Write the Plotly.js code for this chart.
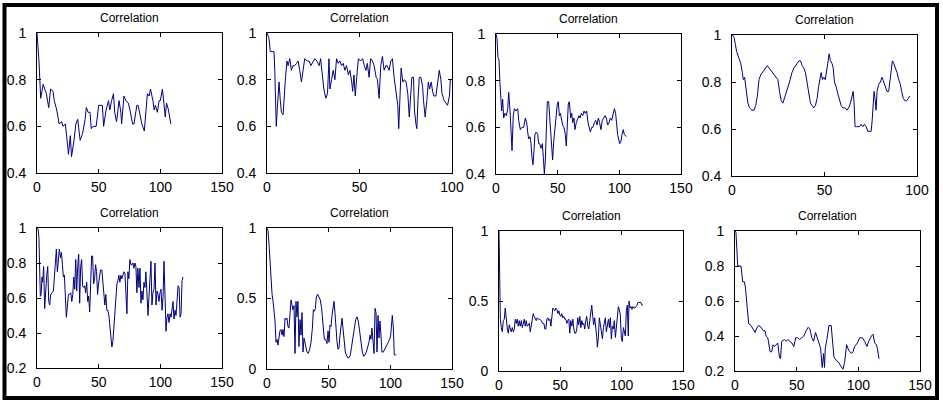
<!DOCTYPE html>
<html>
<head>
<meta charset="utf-8">
<script src="https://cdn.plot.ly/plotly-3.0.1.min.js"></script>
<style>html,body{margin:0;padding:0;background:#fff;}#chart{width:943px;height:406px;}</style>
</head>
<body>
<div id="chart"></div>
<script>
var titleText = "Correlation";

var p1x = [0,1.6,3,5,7.6,9.5,11,13,14,16,18,20,21,23,25,25.5,27,28,30,31.5,33,35,37,39,40,41.5,43,44,45.5,48,50,51.5,53,54,56,58,59,60.5,62,63,64.5,66.5,68,68.6,70.5,72,74,75.4,77.5,78.6,81,82,83.5,85,87,88.4,89.5,91,92,94,95,96,97.6,99,100,101.7,103,104,105,106.6,108.5];
var p1y = [1,0.88,0.72,0.78,0.74,0.68,0.76,0.75,0.71,0.67,0.61,0.62,0.6,0.61,0.51,0.48,0.56,0.47,0.54,0.61,0.63,0.54,0.57,0.63,0.68,0.66,0.66,0.59,0.6,0.6,0.69,0.69,0.69,0.6,0.67,0.71,0.67,0.71,0.74,0.66,0.62,0.71,0.66,0.61,0.73,0.71,0.70,0.67,0.61,0.61,0.69,0.69,0.64,0.61,0.58,0.67,0.74,0.73,0.76,0.71,0.67,0.69,0.66,0.71,0.71,0.76,0.68,0.64,0.70,0.67,0.61];

var p2x = [0,1,1.8,3.8,4.2,4.7,5,5.6,6.1,6.5,7.2,7.8,8.7,9.2,10,10.8,11.4,12.3,13.2,14,15,16,16.8,17.7,18.6,19.5,20.4,21.7,22.8,23.7,24.6,25.9,27,28.2,29,29.8,30.7,31.8,32.7,33.5,34,34.9,35.8,36.7,37.6,38.5,39.4,40.3,41.2,42.1,43,44,44.8,45.8,46.3,47,47.7,48.5,49.4,50.6,51.7,52.6,53.5,54.2,55.2,56,57,57.9,59,59.7,60.6,61.5,62.4,63.3,64.2,65,66,66.9,67.8,68.7,69.8,70.7,71.2,72,72.5,73.4,74.3,75.2,76.1,76.9,77.6,78.3,79.2,79.7,80.5,81,81.6,82.3,83.2,84.1,84.6,85.5,86.4,87.2,87.9,88.8,89.5,90.2,91.3,92.2,93.1,94,94.6,95.8,96.9,97.6,98.6,99.1,99.8];
var p2y = [1,0.98,0.92,0.92,0.84,0.69,0.6,0.68,0.77,0.79,0.71,0.66,0.65,0.73,0.81,0.88,0.86,0.89,0.84,0.86,0.86,0.87,0.88,0.84,0.79,0.84,0.89,0.88,0.88,0.86,0.87,0.89,0.88,0.86,0.89,0.81,0.76,0.72,0.74,0.89,0.76,0.8,0.84,0.8,0.89,0.87,0.88,0.86,0.87,0.84,0.86,0.82,0.84,0.79,0.75,0.82,0.73,0.81,0.89,0.88,0.89,0.86,0.84,0.87,0.81,0.89,0.88,0.86,0.81,0.8,0.72,0.86,0.9,0.84,0.86,0.86,0.84,0.88,0.89,0.81,0.74,0.69,0.59,0.74,0.85,0.79,0.8,0.79,0.74,0.64,0.75,0.81,0.81,0.67,0.61,0.59,0.71,0.81,0.81,0.77,0.71,0.64,0.71,0.79,0.76,0.79,0.75,0.73,0.73,0.8,0.84,0.8,0.74,0.71,0.7,0.69,0.73,0.8,0.8];

var p3x = [0,0.8,1.6,2.4,3.2,4,4.6,5.4,6.2,7.3,8.4,9.5,10.3,11.4,12.2,13,14,14.9,16.2,17.6,18.4,19.7,21,22.4,23.8,24.9,25.7,26.5,27.6,28.4,29.2,30,30.8,31.6,32.7,33.8,34.6,35.4,36.5,37.6,38.4,39.2,40,40.8,41.6,42.7,43.5,44.3,45.1,45.9,46.8,47.6,48.6,49.7,50.5,51.4,52.2,53.2,54,55.1,56.2,57,57.8,58.6,59.5,60.5,61.4,62.2,63.2,64,65.1,66.2,67.3,68.1,69.2,70.3,71.4,72.4,73.5,74.6,75.7,76.5,77.6,78.6,79.7,80.8,81.9,83,84,85.1,86.2,87.3,88.4,89.5,90.5,91.6,92.7,93.8,94.9,96,97,97.8,98.6,100.3,101.3,102.2,103.2,104,105.7];
var p3y = [1,0.98,0.9,0.89,0.79,0.72,0.67,0.72,0.64,0.66,0.65,0.68,0.75,0.67,0.55,0.5,0.65,0.68,0.67,0.68,0.63,0.59,0.6,0.6,0.64,0.62,0.58,0.55,0.56,0.53,0.47,0.44,0.5,0.57,0.58,0.57,0.53,0.53,0.51,0.53,0.47,0.4,0.46,0.64,0.71,0.71,0.64,0.57,0.51,0.46,0.54,0.59,0.64,0.7,0.71,0.65,0.66,0.63,0.61,0.6,0.57,0.52,0.65,0.7,0.71,0.64,0.66,0.62,0.64,0.59,0.62,0.64,0.65,0.64,0.66,0.65,0.67,0.66,0.67,0.62,0.6,0.58,0.6,0.6,0.62,0.63,0.61,0.64,0.62,0.59,0.63,0.64,0.65,0.64,0.61,0.62,0.64,0.63,0.66,0.68,0.66,0.61,0.57,0.53,0.54,0.57,0.59,0.57,0.56];

var p4x = [0.2,1.1,1.8,2.5,3.8,4.7,5.6,6.1,6.8,7.7,8.6,9.5,10.8,11.9,12.8,13.7,14.6,15.5,16.4,17.3,18.2,19.1,20,20.9,22.1,23.6,24.8,25.7,26.6,27.5,28.4,29.9,31.1,32.4,33.5,34.2,35.3,36.2,37.1,37.9,38.8,39.7,40.6,41.5,42.4,43.3,44.2,45.1,46,46.8,47.5,48.2,48.9,49.6,50.4,51.1,51.8,52.5,53.2,54,54.7,55.4,56.3,57.2,58.1,59,59.9,61.2,62.2,63.1,64,64.9,65.5,66,66.5,67.4,68.9,69.8,70.7,71.6,72.5,73.4,74.3,75.2,75.7,76.3,76.8,77.3,77.9,78.4,79.3,80.2,81.1,82,82.9,83.8,84.7,85.4,86,86.7,87.4,88.3,89.2,90.1,91,91.7,92.6,93.5,94.4,95.3,96];
var p4y = [1,0.99,0.96,0.93,0.9,0.88,0.84,0.81,0.82,0.77,0.71,0.69,0.68,0.68,0.7,0.74,0.81,0.83,0.84,0.85,0.86,0.87,0.86,0.85,0.84,0.82,0.81,0.76,0.72,0.71,0.73,0.77,0.8,0.84,0.86,0.87,0.88,0.89,0.89,0.87,0.86,0.84,0.79,0.75,0.71,0.7,0.69,0.7,0.73,0.78,0.82,0.84,0.81,0.82,0.81,0.84,0.88,0.92,0.89,0.88,0.86,0.8,0.78,0.75,0.72,0.7,0.69,0.69,0.68,0.69,0.71,0.74,0.76,0.71,0.61,0.61,0.61,0.62,0.61,0.62,0.61,0.59,0.59,0.59,0.63,0.71,0.76,0.73,0.68,0.76,0.79,0.8,0.82,0.8,0.78,0.76,0.76,0.81,0.86,0.89,0.88,0.86,0.84,0.81,0.79,0.76,0.73,0.72,0.72,0.73,0.74];

var p5x = [0,1,1.6,2.2,2.7,3.3,4.1,4.6,5.4,6.2,7,7.9,8.7,9.5,10.3,11.1,12.2,13.3,14.1,14.9,15.7,16.5,17.3,18.1,19,19.8,20.6,21.4,22.2,23,23.8,24.6,25.5,26.3,27.4,28.2,29,29.8,30.6,31.4,32.2,33,33.8,34.6,35.4,36.2,37,37.8,38.7,39.4,40.3,41.1,41.9,42.7,43.5,44.3,45.1,45.9,46.7,47.5,48.3,49.1,49.9,50.7,51.5,52.6,53.4,54.2,55,55.8,56.6,57.4,58.3,59.1,59.9,60.7,61.5,62.3,63.1,63.9,64.8,65.6,66.4,67.2,68,68.8,69.6,70.5,71.3,72.1,72.9,73.7,74.5,75.3,76.2,77,77.8,78.6,79.4,80.2,81,81.8,82.7,83.5,84.3,85.1,85.9,86.7,87.5,88.3,89.2,90,90.8,91.6,92.4,93.2,94,94.9,95.7,96.5,97.3,98.1,98.9,99.7,100.5,101.4,102.2,103,103.8,104.6,105.4,106.2,107,107.9,108.7,109.5,110.3,111.1,111.9,112.7,113.6,114.4,115.2,116,116.8,117.6,118.4];
var p5y = [1,0.99,0.94,0.75,0.61,0.62,0.72,0.69,0.78,0.54,0.67,0.73,0.78,0.58,0.56,0.62,0.63,0.64,0.72,0.82,0.88,0.75,0.84,0.88,0.83,0.86,0.79,0.72,0.73,0.62,0.49,0.55,0.62,0.62,0.63,0.58,0.62,0.72,0.65,0.82,0.64,0.78,0.85,0.57,0.78,0.82,0.67,0.66,0.67,0.63,0.69,0.58,0.61,0.52,0.72,0.84,0.84,0.68,0.71,0.79,0.75,0.62,0.68,0.72,0.76,0.76,0.7,0.62,0.56,0.62,0.53,0.53,0.5,0.44,0.35,0.32,0.35,0.43,0.51,0.62,0.68,0.7,0.73,0.69,0.73,0.71,0.73,0.75,0.74,0.64,0.51,0.75,0.71,0.82,0.79,0.79,0.8,0.77,0.8,0.78,0.63,0.77,0.66,0.77,0.57,0.64,0.59,0.69,0.66,0.75,0.62,0.5,0.61,0.72,0.81,0.56,0.63,0.65,0.8,0.56,0.64,0.62,0.58,0.63,0.65,0.53,0.61,0.81,0.5,0.41,0.49,0.51,0.46,0.51,0.49,0.54,0.58,0.48,0.53,0.5,0.57,0.67,0.66,0.49,0.51,0.7,0.72];

var p6x = [0,0.8,1.6,2.4,3.2,4.1,4.9,5.7,6.5,7.3,8.1,8.9,9.7,10.5,11.4,12.2,13,13.8,14.6,15.4,16.2,17,17.8,18.6,19.5,20.3,21.1,21.9,22.7,23.5,24.3,25.1,25.9,26.8,27.6,28.4,29.2,30,30.8,31.6,32.4,33.5,34.6,35.7,36.8,37.6,38.4,39.2,40,41.1,42.2,43.2,44.3,45.4,46.5,47.6,48.6,49.5,50.3,51.1,51.9,52.7,53.5,54.3,55.1,55.9,56.8,57.6,58.4,59.2,60,60.8,61.6,62.4,63.5,64.3,65.4,66.5,67.6,68.6,69.7,70.8,71.9,73,74,75.1,76.2,77.3,78.4,79.5,80.5,81.6,82.7,83.5,84.3,85.1,85.9,86.8,87.6,88.4,89.2,90,90.8,91.6,92.4,93.2,94.3,95.4,96.5,97.6,98.6,99.5,100.3,101.1,101.6,102.4,103.2,104.1,104.9];
var p6y = [1,0.98,0.89,0.76,0.62,0.53,0.48,0.42,0.34,0.19,0.21,0.17,0.22,0.27,0.28,0.24,0.28,0.23,0.36,0.35,0.36,0.3,0.29,0.42,0.49,0.45,0.42,0.45,0.11,0.48,0.37,0.48,0.16,0.35,0.24,0.4,0.12,0.22,0.19,0.15,0.12,0.11,0.14,0.19,0.29,0.42,0.41,0.43,0.51,0.53,0.51,0.49,0.43,0.3,0.21,0.21,0.18,0.27,0.19,0.31,0.3,0.38,0.43,0.48,0.4,0.29,0.19,0.14,0.15,0.24,0.32,0.36,0.29,0.19,0.12,0.1,0.08,0.08,0.1,0.16,0.23,0.31,0.35,0.37,0.34,0.27,0.18,0.12,0.09,0.1,0.12,0.15,0.19,0.24,0.21,0.29,0.19,0.11,0.43,0.4,0.12,0.38,0.22,0.34,0.24,0.12,0.12,0.14,0.15,0.18,0.19,0.21,0.24,0.31,0.38,0.3,0.1,0.1,0.1];

var p7x = [0,0.5,1.1,1.9,2.7,3.5,4.3,5.1,6,6.8,7.6,8.4,9.2,10,10.8,11.7,12.5,13.3,14.1,14.9,15.7,16.5,17.3,18.2,19,19.8,20.6,21.4,22.2,23,23.8,24.7,25.5,26.3,27.1,27.9,28.7,29.5,30.4,31.2,32.2,33.3,34.4,35.5,36.6,37.4,38.2,39,39.8,40.6,41.5,42.3,43.1,43.9,44.7,45.5,46.3,47.2,48,48.8,49.6,50.4,51.2,52,52.8,53.7,54.5,55.3,56.1,56.9,57.7,58.5,59.3,60.2,61,61.8,62.6,63.4,64.2,65,65.9,66.7,67.5,68.3,69.1,69.9,70.7,71.5,72.4,73.2,74,74.8,75.6,76.4,77.2,78,78.9,79.7,80.2,81,81.8,82.7,83.5,84.3,85.1,85.9,86.7,87.5,88.3,89.2,90,90.8,91.6,92.4,93.2,94,94.9,95.7,96.5,97.3,98.1,98.9,99.7,100.5,101.4,102.2,103,103.8,104.6,105.4,106,106.8,107.6,108.4,109.2,110,110.8,111.7,112.5,113.3,114.1,114.9,115.7,116.5,117.3];
var p7y = [1,0.69,0.37,0.31,0.28,0.36,0.37,0.45,0.33,0.3,0.27,0.33,0.3,0.28,0.31,0.28,0.3,0.37,0.34,0.37,0.32,0.36,0.32,0.36,0.31,0.34,0.37,0.32,0.36,0.32,0.33,0.34,0.28,0.33,0.37,0.41,0.39,0.38,0.36,0.38,0.37,0.37,0.36,0.34,0.34,0.3,0.3,0.37,0.38,0.36,0.37,0.32,0.38,0.45,0.44,0.43,0.45,0.44,0.41,0.43,0.4,0.39,0.41,0.38,0.39,0.37,0.37,0.34,0.36,0.37,0.27,0.36,0.32,0.37,0.3,0.27,0.27,0.3,0.38,0.33,0.39,0.31,0.36,0.33,0.34,0.3,0.36,0.39,0.32,0.3,0.36,0.44,0.47,0.39,0.33,0.38,0.32,0.24,0.17,0.24,0.38,0.33,0.26,0.23,0.31,0.36,0.38,0.28,0.34,0.37,0.31,0.38,0.23,0.32,0.3,0.36,0.24,0.33,0.39,0.46,0.44,0.4,0.24,0.21,0.31,0.27,0.25,0.43,0.47,0.25,0.5,0.45,0.46,0.44,0.46,0.45,0.45,0.46,0.47,0.49,0.49,0.49,0.49,0.47,0.47];

var p8x = [0,0.8,2.2,3.5,4.9,6.2,7.6,8.4,9.8,11.1,13,14.4,16.3,17.3,19,21.1,23,24.4,25.2,26.6,28.5,29.8,30.9,32,33.3,34.7,36,36.9,37.9,40.1,41.5,42.8,44.4,46.1,47.7,49.3,50.9,52.3,54.2,55.8,57.7,59.3,60.7,62.3,63.7,65.3,66.7,67.8,69.4,70.7,71.8,72.6,73.2,74.5,76.2,78,79.1,80.2,82.1,84,85.6,87.5,88.9,90.5,92.1,94.3,95.7,97,99.2,101.1,103.3,105.1,107,108.4,110.6,111.9,113.3,114.6,115.4,116.8];
var p8y = [1,0.99,0.8,0.8,0.8,0.71,0.71,0.68,0.55,0.47,0.46,0.44,0.42,0.44,0.46,0.45,0.43,0.43,0.4,0.39,0.31,0.31,0.35,0.34,0.35,0.36,0.28,0.27,0.37,0.38,0.37,0.38,0.37,0.36,0.34,0.39,0.39,0.38,0.39,0.4,0.43,0.45,0.44,0.39,0.37,0.42,0.39,0.36,0.33,0.22,0.3,0.22,0.33,0.38,0.46,0.46,0.38,0.28,0.26,0.25,0.23,0.21,0.25,0.35,0.32,0.3,0.31,0.34,0.36,0.39,0.39,0.37,0.34,0.37,0.4,0.41,0.36,0.35,0.33,0.27];

var xRanges = [[0,150],[0,100],[0,150],[0,100],[0,150],[0,150],[0,150],[0,150]];
var yRanges = [[0.4,1],[0.4,1],[0.4,1],[0.4,1],[0.2,1],[0,1],[0,1],[0.2,1]];
var xTicks = [[0,50,100,150],[0,50,100],[0,50,100,150],[0,50,100],[0,50,100,150],[0,50,100,150],[0,50,100,150],[0,50,100,150]];
var yTicks = [[0.4,0.6,0.8,1],[0.4,0.6,0.8,1],[0.4,0.6,0.8,1],[0.4,0.6,0.8,1],[0.2,0.4,0.6,0.8,1],[0,0.5,1],[0,0.5,1],[0.2,0.4,0.6,0.8,1]];
var yTickText = [["0.4","0.6","0.8","1"],["0.4","0.6","0.8","1"],["0.4","0.6","0.8","1"],["0.4","0.6","0.8","1"],["0.2","0.4","0.6","0.8","1"],["0","0.5","1"],["0","0.5","1"],["0.2","0.4","0.6","0.8","1"]];

var seriesX = [p1x,p2x,p3x,p4x,p5x,p6x,p7x,p8x];
var seriesY = [p1y,p2y,p3y,p4y,p5y,p6y,p7y,p8y];

// panel boxes in pixels: [left, right, top, bottom]
var W = 943, H = 406;
var boxes = [
  [37,222,33,173],[267,452,33,173],[496,681,34,174],[732,917,35,176],
  [37,222,228,368],[267,452,228,369],[499,683,231,371],[735,920,231,371]
];

var tickFamily = 'Liberation Sans Narrow, Arial Narrow, Liberation Sans, Arial, sans-serif';
var data = [];
var layout = {
  width: W, height: H,
  margin: {l:0,r:0,t:0,b:0},
  paper_bgcolor: '#ffffff',
  plot_bgcolor: '#ffffff',
  showlegend: false,
  font: {family: 'Liberation Sans, Arial, sans-serif', color: '#000'},
  annotations: [],
  shapes: [{
    type: 'rect', xref: 'paper', yref: 'paper',
    x0: 4.5/W, x1: 937/W, y0: 1-398/H, y1: 1-5/H,
    line: {color: '#000', width: 4}, fillcolor: 'rgba(0,0,0,0)'
  }]
};

for (var i = 0; i < 8; i++) {
  var n = i + 1;
  var xa = n === 1 ? 'x' : 'x' + n;
  var ya = n === 1 ? 'y' : 'y' + n;
  data.push({
    type: 'scatter', mode: 'lines',
    x: seriesX[i], y: seriesY[i],
    xaxis: xa, yaxis: ya,
    line: {color: '#000080', width: 1},
    hoverinfo: 'skip'
  });
  var b = boxes[i];
  var axCommon = {
    showline: true, mirror: 'ticks', linecolor: '#000', linewidth: 1,
    ticks: 'inside', ticklen: 4, tickcolor: '#000', tickwidth: 1,
    showgrid: false, zeroline: false, fixedrange: true,
    tickfont: {family: tickFamily, size: 14, color: '#000'}
  };
  var xaxis = Object.assign({}, axCommon, {
    domain: [b[0]/W, b[1]/W], range: xRanges[i], anchor: ya,
    tickmode: 'array', tickvals: xTicks[i], ticklabelstandoff: 1
  });
  var yaxis = Object.assign({}, axCommon, {
    domain: [1 - b[3]/H, 1 - b[2]/H], range: yRanges[i], anchor: xa,
    tickmode: 'array', tickvals: yTicks[i], ticktext: yTickText[i], ticklabelstandoff: 7
  });
  layout[n === 1 ? 'xaxis' : 'xaxis' + n] = xaxis;
  layout[n === 1 ? 'yaxis' : 'yaxis' + n] = yaxis;
  layout.annotations.push({
    text: titleText, showarrow: false,
    xref: xa + ' domain', yref: ya + ' domain', x: 0.5, y: 1,
    xanchor: 'center', yanchor: 'bottom', yshift: 6,
    font: {family: 'Liberation Sans, Arial, sans-serif', size: 12, color: '#000'}
  });
}

Plotly.newPlot('chart', data, layout, {displayModeBar: false, staticPlot: true});
</script>
</body>
</html>
